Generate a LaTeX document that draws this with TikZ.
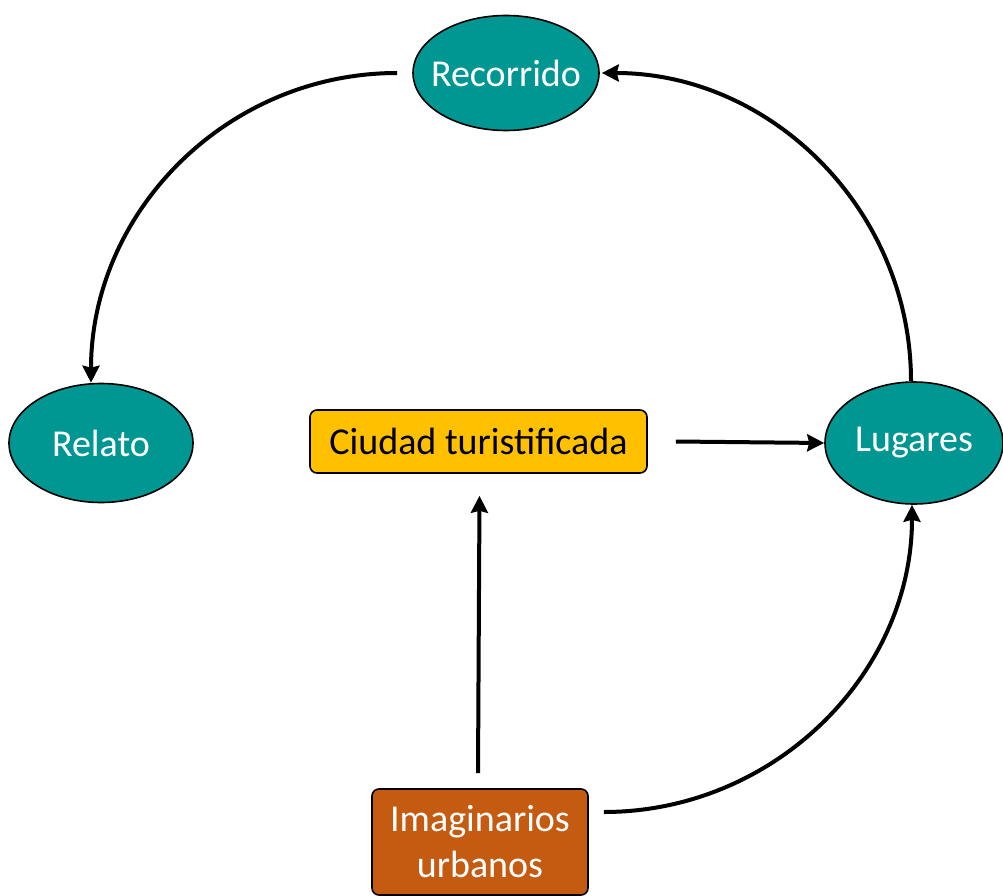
\documentclass[tikz,border=0pt]{standalone}
\usepackage{fontspec}
\setmainfont{Carlito}
\usetikzlibrary{arrows.meta,shapes.geometric}
\definecolor{tealc}{RGB}{0,150,146}
\definecolor{yellowc}{RGB}{255,192,0}
\definecolor{orangec}{RGB}{197,90,17}
\tikzset{
  ell/.style={ellipse,draw=black,line width=1.6pt,fill=tealc,text=white,inner sep=0pt,font=\fontsize{38}{42}\selectfont},
  rbox/.style={rectangle,rounded corners=7pt,draw=black,line width=1.6pt,font=\fontsize{38}{46}\selectfont,align=center,inner sep=0pt},
  arr/.style={line width=4pt,-{Stealth[length=17pt,width=17pt,inset=2pt]}}
}
\begin{document}
\begin{tikzpicture}[x=1pt,y=-1pt]
\useasboundingbox (0,0) rectangle (1003,896);
\node[ell,minimum width=186pt,minimum height=115pt] (rec) at (506,73) {\makebox[0pt]{Recorrido}};
\node[ell,minimum width=184pt,minimum height=119pt] (rel) at (101,443) {\makebox[0pt]{Relato}};
\node[ell,minimum width=178pt,minimum height=122pt] (lug) at (914,443) {\makebox[0pt]{Lugares}};
\node[rbox,fill=yellowc,text=black,minimum width=337pt,minimum height=63pt] (ciu) at (478.5,441.5) {Ciudad turistificada};
\node[rbox,fill=orangec,text=white,minimum width=216pt,minimum height=106pt] (ima) at (480,842) {Imaginarios\\urbanos};
\coordinate (a1) at ([xshift=-15pt]rec.west);
\coordinate (a2) at ([xshift=-10pt]rel.north);
\draw[arr] (a1) to[out=180,in=90] (a2);
\coordinate (b1) at ([xshift=-3pt]lug.north);
\draw[arr] (b1) to[out=90,in=0] ([xshift=2pt]rec.east);
\coordinate (c1) at ([xshift=28pt]ciu.east);
\draw[arr] (c1) -- (lug.west);
\coordinate (d1) at ([xshift=-2pt,yshift=15pt]ima.north);
\coordinate (d2) at ([xshift=1pt,yshift=-22pt]ciu.south);
\draw[arr] (d1) -- (d2);
\coordinate (e1) at ([xshift=15pt,yshift=30pt]ima.east);
\draw[arr] (e1) to[out=0,in=-90] ([xshift=-2pt]lug.south);
\end{tikzpicture}
\end{document}
